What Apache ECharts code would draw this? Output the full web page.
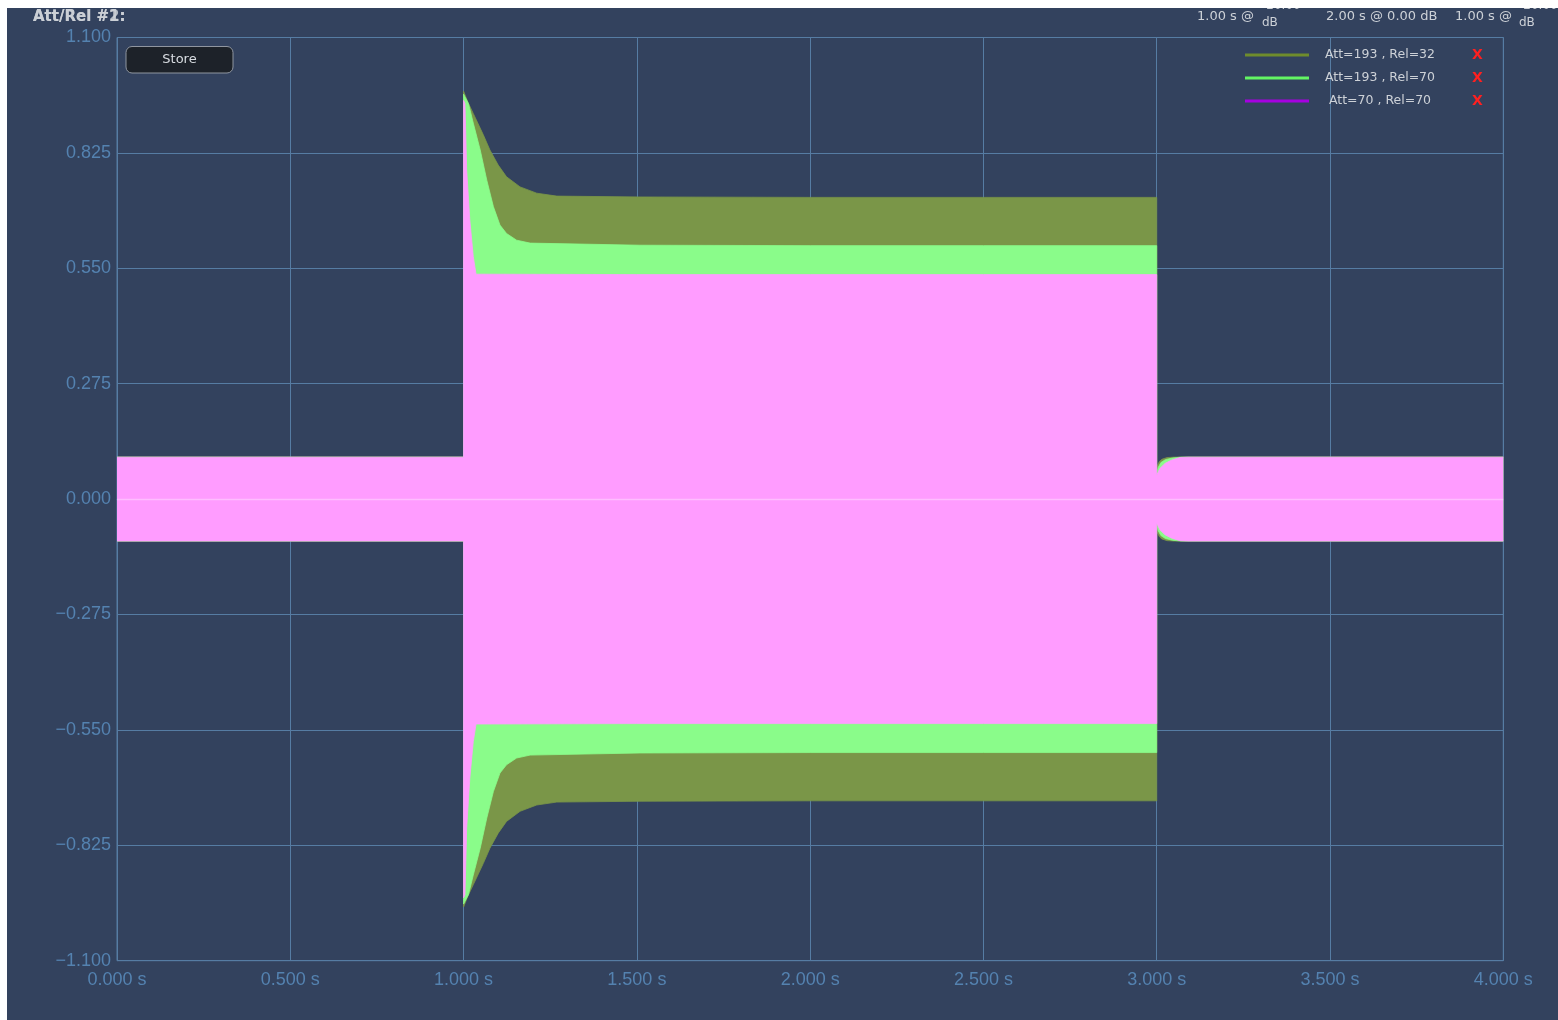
<!DOCTYPE html>
<html>
<head>
<meta charset="utf-8">
<script src="https://cdn.jsdelivr.net/npm/echarts@6/dist/echarts.min.js"></script>
<style>
  html, body { margin: 0; padding: 0; background: #ffffff; width: 1558px; height: 1020px; overflow: hidden; }
  #chart { position: absolute; left: 7px; top: 8px; width: 1551px; height: 1012px; background: #33425e; }
</style>
</head>
<body>
<div id="chart"></div>
<script>
// ---- data (envelope amplitudes of the waveforms) ----
const seriesNames = ['Att=193 , Rel=32', 'Att=193 , Rel=70', 'Att=70 , Rel=70'];

// Att=193 , Rel=32 (olive)
const timeA = [0, 1.0, 1.0, 1.013, 1.028, 1.057, 1.076, 1.100, 1.124, 1.163, 1.211, 1.269, 1.509, 2.0, 2.5, 3.0, 3.0, 3.002, 3.008, 3.015, 3.030, 3.050, 4.0];
const ampA  = [0.1, 0.1, 0.972, 0.945, 0.919, 0.868, 0.832, 0.796, 0.768, 0.744, 0.729, 0.722, 0.720, 0.719, 0.719, 0.719, 0.060, 0.080, 0.090, 0.095, 0.099, 0.100, 0.100];

// Att=193 , Rel=70 (green)
const timeB = [0, 1.0, 1.0, 1.014, 1.028, 1.048, 1.067, 1.086, 1.105, 1.124, 1.153, 1.192, 1.509, 2.0, 2.5, 3.0, 3.0, 3.004, 3.012, 3.025, 3.045, 3.070, 4.0];
const ampB  = [0.1, 0.1, 0.965, 0.943, 0.896, 0.832, 0.760, 0.697, 0.653, 0.633, 0.617, 0.610, 0.605, 0.604, 0.604, 0.604, 0.058, 0.075, 0.087, 0.094, 0.098, 0.100, 0.100];

// Att=70 , Rel=70 (purple / pink fill)
const timeC = [0, 1.0, 1.0, 1.004, 1.009, 1.018, 1.028, 1.036, 1.5, 2.0, 2.5, 3.0, 3.0, 3.009, 3.024, 3.043, 3.067, 3.090, 4.0];
const ampC  = [0.1, 0.1, 0.950, 0.943, 0.784, 0.665, 0.578, 0.536, 0.535, 0.535, 0.535, 0.535, 0.057, 0.073, 0.085, 0.093, 0.099, 0.100, 0.100];

const xTicks = { min: 0, max: 4, interval: 0.5 };
const yTicks = { min: -1.1, max: 1.1, interval: 0.275 };

// ---- styles ----
const fillColors   = ['#7a9648', '#8afc8a', '#ff9cff'];
const legendColors = ['#6f8c2c', '#63f563', '#a600e0'];
const gridColor  = '#567ca3';
const labelColor = '#5482b0';
const textColor  = '#cdd1d7';

function env(times, amps, sign) {
  return times.map((t, i) => [t, sign * amps[i]]);
}

const dataSets = [[timeA, ampA], [timeB, ampB], [timeC, ampC]];
const series = [];
dataSets.forEach(([ts, as], k) => {
  [1, -1].forEach(sign => {
    const s = {
      name: seriesNames[k],
      type: 'line',
      data: env(ts, as, sign),
      showSymbol: false,
      silent: true,
      smooth: false,
      itemStyle: { color: legendColors[k] },
      lineStyle: { width: 0.8, color: fillColors[k] },
      areaStyle: { color: fillColors[k], opacity: 1, origin: 'auto' },
      z: 2 + k
    };
    if (k === 2 && sign === 1) {
      s.markLine = {
        silent: true, symbol: 'none', label: { show: false },
        lineStyle: { color: 'rgba(255,255,255,0.35)', width: 1.4, type: 'solid' },
        data: [{ yAxis: 0 }]
      };
    }
    series.push(s);
  });
});

const chart = echarts.init(document.getElementById('chart'), null, { renderer: 'canvas' });
const headerFont = '"DejaVu Sans", sans-serif';

const option = {
  animation: false,
  backgroundColor: 'transparent',
  grid: { left: 110, right: 54.7, top: 29.5, bottom: 59.3, show: true, borderColor: gridColor, borderWidth: 1 },
  xAxis: {
    type: 'value', min: xTicks.min, max: xTicks.max, interval: xTicks.interval,
    axisLine: { show: true, lineStyle: { color: gridColor } },
    axisTick: { show: false },
    splitLine: { show: true, lineStyle: { color: gridColor, width: 1 } },
    axisLabel: {
      color: labelColor, fontFamily: '"Liberation Sans", Arial, sans-serif', fontSize: 18, margin: 10,
      formatter: v => v.toFixed(3) + ' s'
    }
  },
  yAxis: {
    type: 'value', min: yTicks.min, max: yTicks.max, interval: yTicks.interval,
    axisLine: { show: true, lineStyle: { color: gridColor } },
    axisTick: { show: false },
    splitLine: { show: true, lineStyle: { color: gridColor, width: 1 } },
    axisLabel: {
      color: labelColor, fontFamily: '"Liberation Sans", Arial, sans-serif', fontSize: 18, margin: 6,
      padding: [0, 0, 3, 0],
      formatter: v => (Math.abs(v) < 1e-9 ? '0.000' : (v < 0 ? '\u2212' : '') + Math.abs(v).toFixed(3))
    }
  },
  legend: {
    orient: 'vertical', left: 1238, top: 39.5, itemGap: 8, padding: 0,
    itemWidth: 64, itemHeight: 3, selectedMode: false,
    data: seriesNames.map((n, k) => ({ name: n, icon: 'rect', itemStyle: { color: legendColors[k], borderWidth: 0 } })),
    formatter: name => '{n|' + name + '}{x|X}',
    textStyle: {
      lineHeight: 15,
      rich: {
        n: { width: 132, align: 'center', color: textColor, fontSize: 12.5, fontFamily: headerFont, lineHeight: 15 },
        x: { color: '#ff2020', fontSize: 14, fontWeight: 'bold', fontFamily: headerFont, padding: [0, 0, 0, 26], lineHeight: 15 }
      }
    }
  },
  graphic: [
    { type: 'text', x: 26, y: 9.5, z: 100, style: { text: 'Att/Rel #1:', fill: '#bfc3ca', font: 'bold 15px "DejaVu Sans", sans-serif', verticalAlign: 'middle' } },
    { type: 'text', x: 26, y: 9.5, z: 101, style: { text: 'Att/Rel #2:', fill: 'rgba(205,209,215,0.85)', font: 'bold 15px "DejaVu Sans", sans-serif', verticalAlign: 'middle' } },

    { type: 'text', x: 1190, y: 8.5, z: 100, style: { text: '1.00 s @', fill: textColor, font: '13px "DejaVu Sans", sans-serif', verticalAlign: 'middle' } },
    { type: 'text', x: 1255, y: -2.5, z: 100, style: { text: '-20.00', fill: textColor, font: '12px "DejaVu Sans", sans-serif', verticalAlign: 'middle' } },
    { type: 'text', x: 1255, y: 15, z: 100, style: { text: 'dB', fill: textColor, font: '12px "DejaVu Sans", sans-serif', verticalAlign: 'middle' } },

    { type: 'text', x: 1319, y: 8.5, z: 100, style: { text: '2.00 s @ 0.00 dB', fill: textColor, font: '13px "DejaVu Sans", sans-serif', verticalAlign: 'middle' } },

    { type: 'text', x: 1448, y: 8.5, z: 100, style: { text: '1.00 s @', fill: textColor, font: '13px "DejaVu Sans", sans-serif', verticalAlign: 'middle' } },
    { type: 'text', x: 1512, y: -2.5, z: 100, style: { text: '-20.00', fill: textColor, font: '12px "DejaVu Sans", sans-serif', verticalAlign: 'middle' } },
    { type: 'text', x: 1512, y: 15, z: 100, style: { text: 'dB', fill: textColor, font: '12px "DejaVu Sans", sans-serif', verticalAlign: 'middle' } },

    { type: 'rect', z: 100, shape: { x: 119, y: 38.5, width: 107, height: 26.5, r: 6 }, style: { fill: '#1d2229', stroke: '#9096a0', lineWidth: 1 } },
    { type: 'text', x: 172.5, y: 52, z: 101, style: { text: 'Store', fill: '#d8dce1', font: '13px "DejaVu Sans", sans-serif', align: 'center', verticalAlign: 'middle' } }
  ],
  series: series
};
chart.setOption(option);
</script>
</body>
</html>
